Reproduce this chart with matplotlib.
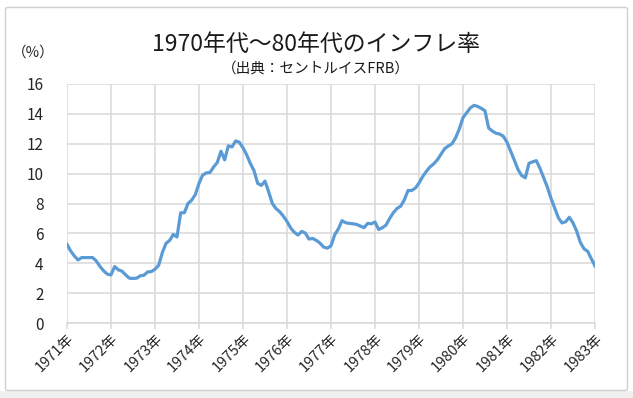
import matplotlib
matplotlib.use("Agg")
import matplotlib.pyplot as plt
from matplotlib.patches import FancyBboxPatch, Rectangle
import numpy as np

plt.rcParams['font.family'] = ['Noto Sans CJK JP', 'DejaVu Sans']

title = "1970年代～80年代のインフレ率"
subtitle = "（出典：セントルイスFRB）"
unit_label = "（%）"
year_labels = [f"{y}年" for y in range(1971, 1984)]
y_ticks = [0, 2, 4, 6, 8, 10, 12, 14, 16]

# monthly inflation rate (%), Jan 1971 .. Jan 1983
v1971 = [5.27, 4.82, 4.49, 4.22, 4.38, 4.38, 4.38, 4.38, 4.15, 3.78, 3.49, 3.27]
v1972 = [3.22, 3.78, 3.56, 3.47, 3.22, 3.00, 2.98, 3.00, 3.16, 3.20, 3.42, 3.44]
v1973 = [3.60, 3.87, 4.71, 5.33, 5.53, 5.93, 5.76, 7.38, 7.38, 8.00, 8.22, 8.60]
v1974 = [9.35, 9.90, 10.05, 10.08, 10.45, 10.75, 11.50, 10.92, 11.86, 11.79, 12.19, 12.10]
v1975 = [11.73, 11.26, 10.68, 10.20, 9.35, 9.21, 9.50, 8.78, 8.00, 7.66, 7.45, 7.15]
v1976 = [6.80, 6.36, 6.07, 5.89, 6.13, 6.02, 5.62, 5.66, 5.53, 5.35, 5.08, 5.01]
v1977 = [5.17, 5.90, 6.30, 6.85, 6.71, 6.67, 6.64, 6.60, 6.49, 6.38, 6.67, 6.64]
v1978 = [6.76, 6.26, 6.38, 6.55, 7.00, 7.38, 7.67, 7.82, 8.25, 8.87, 8.87, 9.03]
v1979 = [9.37, 9.80, 10.15, 10.45, 10.65, 10.92, 11.30, 11.67, 11.85, 12.00, 12.40, 13.00]
v1980 = [13.75, 14.07, 14.40, 14.57, 14.50, 14.37, 14.20, 13.05, 12.85, 12.70, 12.65, 12.50]
v1981 = [12.10, 11.50, 10.90, 10.27, 9.87, 9.72, 10.69, 10.79, 10.87, 10.35, 9.73, 9.10]
v1982 = [8.35, 7.70, 7.05, 6.70, 6.78, 7.08, 6.70, 6.15, 5.40, 4.97, 4.80, 4.30]
v1983 = [3.82]

values = v1971 + v1972 + v1973 + v1974 + v1975 + v1976 + v1977 + v1978 + v1979 + v1980 + v1981 + v1982 + v1983
months = np.arange(len(values))

fig = plt.figure(figsize=(6.33, 3.98), dpi=100)
W, H = 633, 398

# bottom gray strip and outer border
fig.patches.append(Rectangle((0, 0), 1, 7 / H, transform=fig.transFigure,
                             facecolor='#f0f0f0', edgecolor='none', zorder=-2))
fig.patches.append(FancyBboxPatch((5.5 / W, 7.5 / H), 622 / W, 383 / H,
                                  boxstyle="round,pad=0,rounding_size=0.004",
                                  transform=fig.transFigure, facecolor='white',
                                  edgecolor='#d0d0d0', linewidth=1.0, zorder=-1))

ax = fig.add_axes([67 / W, 1 - 323 / H, (595 - 67) / W, (323 - 84) / H])
ax.set_zorder(2)
ax.patch.set_alpha(0)
ax.plot(months, values, color='#5b9bd5', linewidth=2.3, solid_joinstyle='round', zorder=3)

ax.set_xlim(0, 144)
ax.set_ylim(0, 16)
ax.set_yticks(y_ticks)
ax.set_yticklabels([str(t) for t in y_ticks], fontsize=11, color='#262626')
ax.set_xticks(np.arange(0, 145, 12))
ax.set_xticklabels(year_labels, rotation=45, ha='right', va='top',
                   rotation_mode='anchor', fontsize=10.5, color='#262626')
ax.tick_params(axis='y', length=0, pad=17)
ax.tick_params(axis='x', length=4, width=1.1, color='#d9d9d9', pad=2)
ax.grid(True, color='#d9d9d9', linewidth=1.1, zorder=0)
for s in ['top', 'right', 'left']:
    ax.spines[s].set_visible(False)
ax.spines['bottom'].set_color('#d9d9d9')
ax.spines['bottom'].set_linewidth(1.1)
ax.set_axisbelow(True)

fig.text(316 / W, 1 - 44 / H, title, ha='center', va='center', fontsize=16.5, color='#1a1a1a')
fig.text(316 / W, 1 - 69 / H, subtitle, ha='center', va='center', fontsize=10.5, color='#1a1a1a')
fig.text(33 / W, 1 - 53 / H, unit_label, ha='center', va='center', fontsize=10.5, color='#262626')

fig.savefig("out.png", dpi=100)
